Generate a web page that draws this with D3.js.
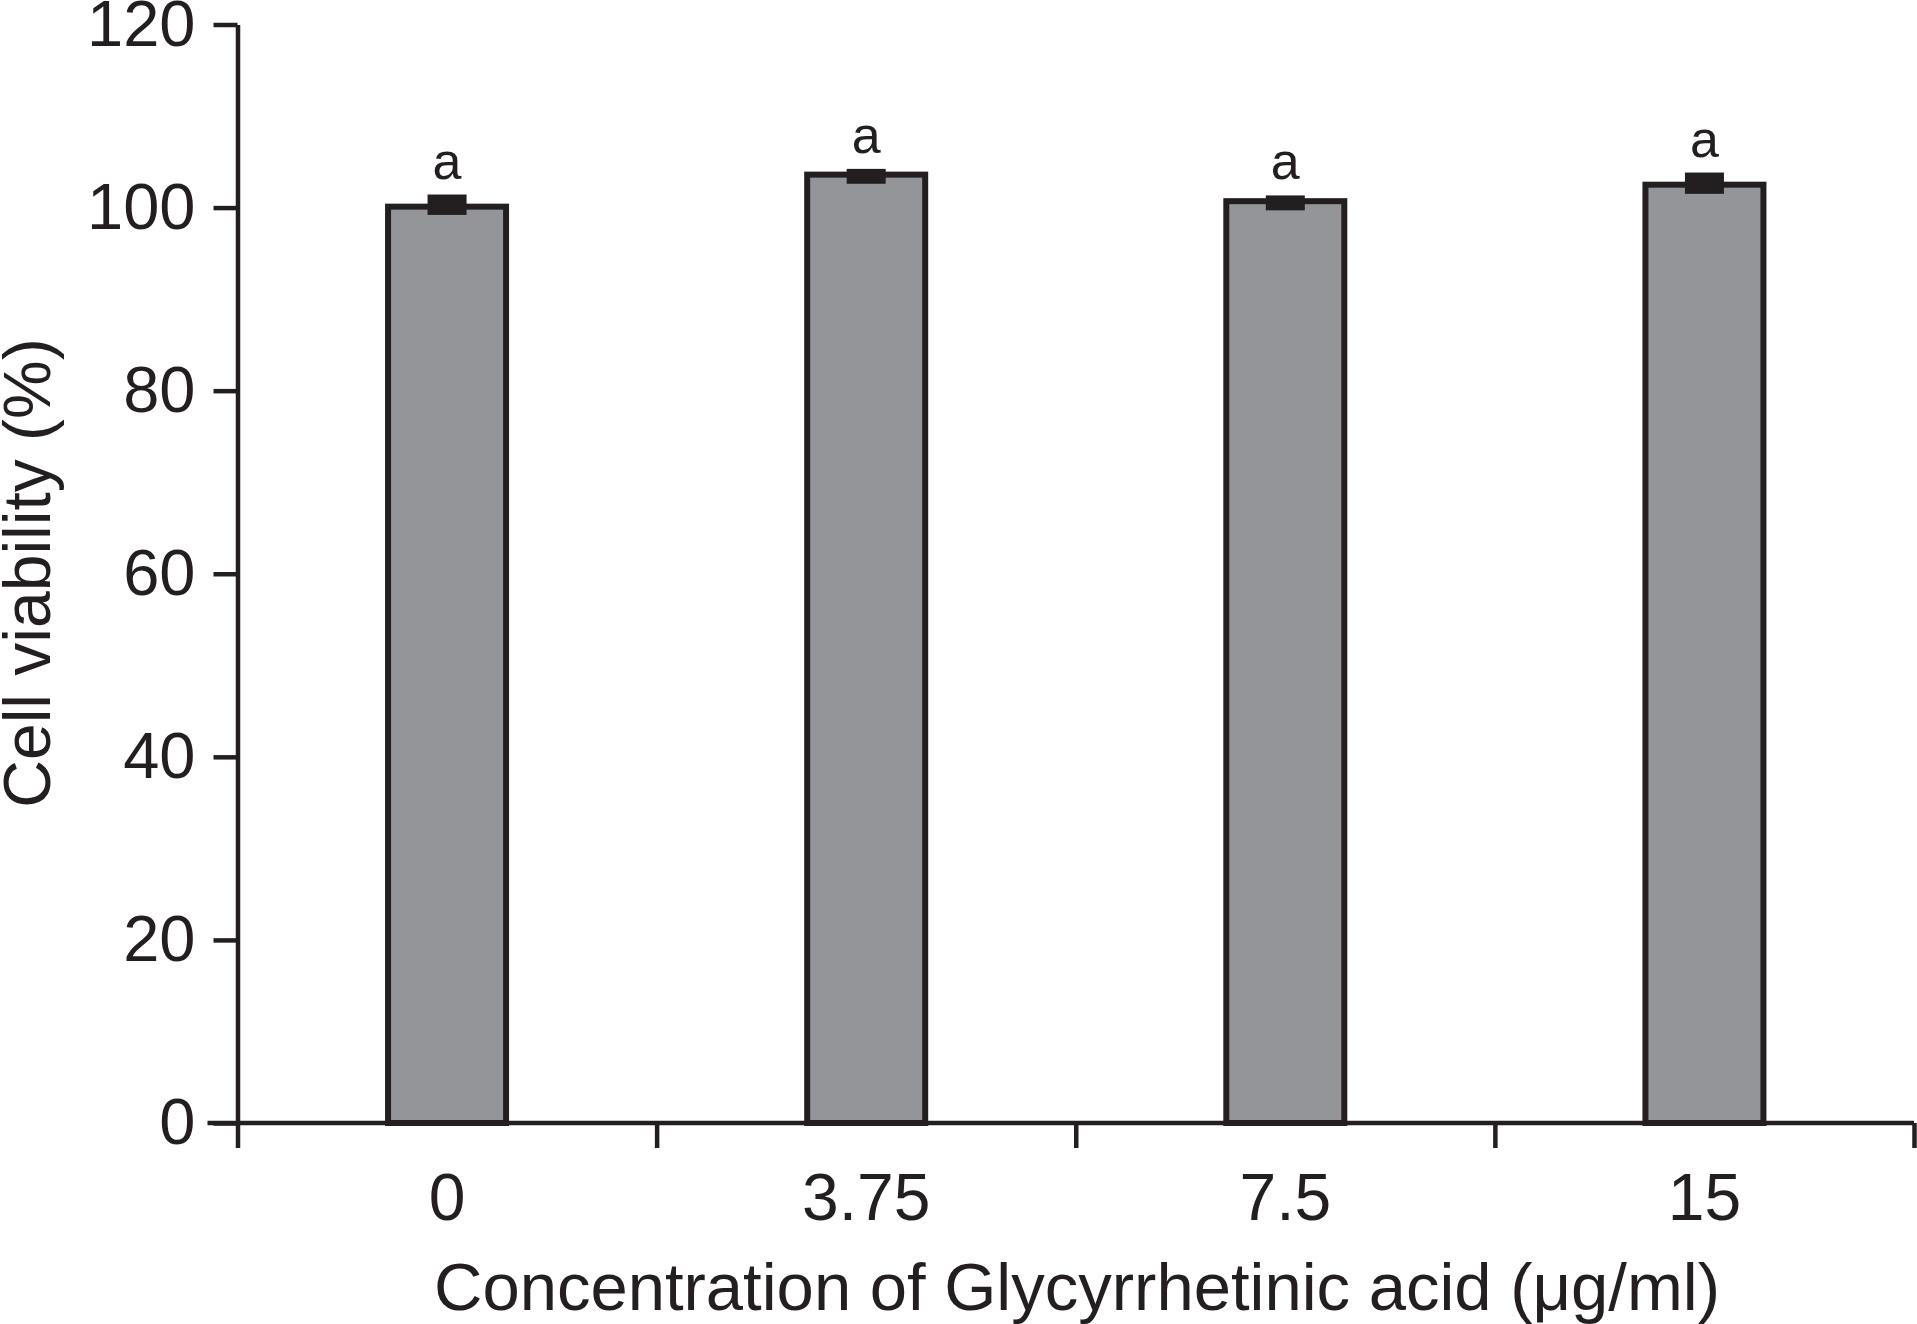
<!DOCTYPE html>
<html>
<head>
<meta charset="utf-8">
<script src="https://cdn.jsdelivr.net/npm/d3@7"></script>
<style>
  body { margin: 0; background: #fff; }
  svg { display: block; }
  text { font-family: "Liberation Sans", Arial, sans-serif; fill: #231f20; }
</style>
</head>
<body>
<svg id="chart" width="1917" height="1324"></svg>
<script>
// data
const concentrations = ["0", "3.75", "7.5", "15"];
const viability = [100.1, 103.6, 100.7, 102.5];
const errUp = [1.0, 0.3, 0.3, 1.0];
const errDown = [0.9, 1.0, 1.0, 1.0];
const letters = ["a", "a", "a", "a"];
const yTicks = [0, 20, 40, 60, 80, 100, 120];

const ink = "#231f20";
const svg = d3.select("#chart");

const plotLeft = 237.5, plotRight = 1914, plotTop = 24.5, plotBottom = 1123;

const x = d3.scaleBand().domain(concentrations).range([plotLeft, plotRight]).padding(0);
const xEdge = d3.scaleLinear().domain([0, concentrations.length]).range([plotLeft, plotRight]);
const y = d3.scaleLinear().domain([0, 120]).range([plotBottom, plotTop]);

const barW = 118;

// bars
svg.append("g").selectAll("rect")
  .data(viability)
  .join("rect")
    .attr("x", (d, i) => x(concentrations[i]) + x.bandwidth() / 2 - barW / 2)
    .attr("y", d => y(d))
    .attr("width", barW)
    .attr("height", d => y(0) - y(d))
    .attr("fill", "#939598")
    .attr("stroke", ink)
    .attr("stroke-width", 6);

// error bars (thick caps merge into a block)
svg.append("g").selectAll("rect")
  .data(viability)
  .join("rect")
    .attr("x", (d, i) => x(concentrations[i]) + x.bandwidth() / 2 - 19.5)
    .attr("y", (d, i) => y(d + errUp[i]) - 3)
    .attr("width", 39)
    .attr("height", (d, i) => y(d - errDown[i]) - y(d + errUp[i]) + 3)
    .attr("fill", ink);

// significance letters
svg.append("g").selectAll("text")
  .data(viability)
  .join("text")
    .attr("x", (d, i) => x(concentrations[i]) + x.bandwidth() / 2)
    .attr("y", (d, i) => y(d + errUp[i]) - 3 - 16)
    .attr("text-anchor", "middle")
    .style("font-size", "52px")
    .text((d, i) => letters[i]);

// y axis
const yAxis = svg.append("g")
  .attr("transform", `translate(${plotLeft},0)`)
  .call(d3.axisLeft(y).tickValues(yTicks).tickSize(24).tickSizeOuter(0).tickPadding(18));
yAxis.selectAll("path, line").attr("stroke", ink).attr("stroke-width", 4.5);
yAxis.selectAll("text").style("font-size", "65px").attr("fill", ink)
  .style("font-family", '"Liberation Sans", Arial, sans-serif');

// x axis: ticks at band edges
const xTickAxis = svg.append("g")
  .attr("transform", `translate(0,${plotBottom})`)
  .call(d3.axisBottom(xEdge).tickValues(d3.range(concentrations.length + 1)).tickFormat("").tickSize(25).tickSizeOuter(0));
xTickAxis.selectAll("path, line").attr("stroke", ink).attr("stroke-width", 4.5);
xTickAxis.select(".domain").attr("d", `M${plotLeft - 30},0H${plotRight}`);

// x labels at band centres
const xLab = svg.append("g")
  .attr("transform", `translate(0,${plotBottom})`)
  .call(d3.axisBottom(x).tickSize(0).tickPadding(50));
xLab.select(".domain").remove();
xLab.selectAll("text").style("font-size", "66px").attr("fill", ink)
  .style("font-family", '"Liberation Sans", Arial, sans-serif');

// axis titles
svg.append("text")
  .attr("x", 1077)
  .attr("y", 1310)
  .attr("text-anchor", "middle")
  .style("font-size", "67px")
  .text("Concentration of Glycyrrhetinic acid (\u03bcg/ml)");

svg.append("text")
  .attr("transform", "translate(50,573) rotate(-90)")
  .attr("text-anchor", "middle")
  .style("font-size", "66px")
  .text("Cell viability (%)");
</script>
</body>
</html>
